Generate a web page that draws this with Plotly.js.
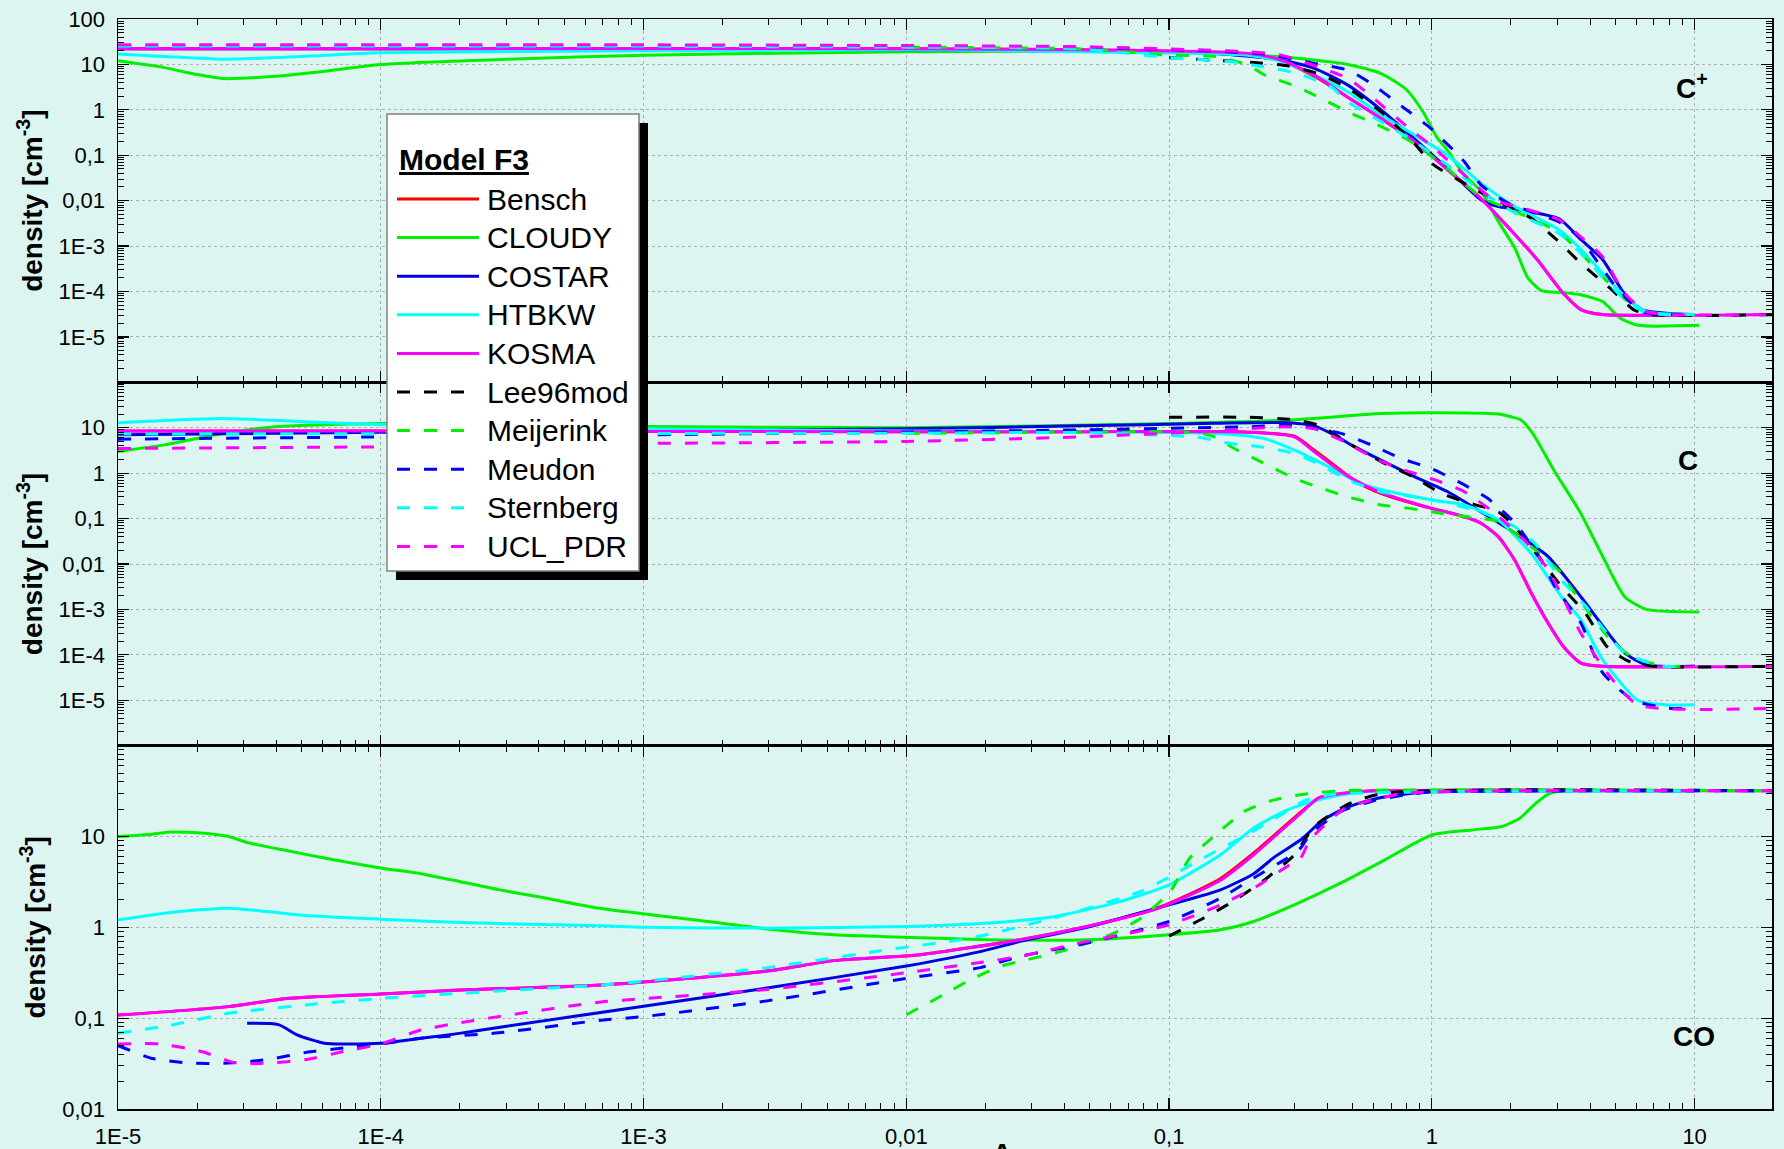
<!DOCTYPE html>
<html><head><meta charset="utf-8">
<script src="https://cdn.plot.ly/plotly-3.0.1.min.js"></script>
<style>html,body{margin:0;padding:0;background:#DDF5F0;}#chart{width:1784px;height:1149px;}</style>
</head><body><div id="chart"></div>
<script>
// ---------------- DATA ----------------
const models = ['Bensch','CLOUDY','COSTAR','HTBKW','KOSMA','Lee96mod','Meijerink','Meudon','Sternberg','UCL_PDR'];
const xTickVals = [1e-5,1e-4,1e-3,0.01,0.1,1,10];
const xTickText = ['1E-5','1E-4','1E-3','0,01','0,1','1','10'];
const yTickVals1 = [1e-5,1e-4,1e-3,0.01,0.1,1,10,100];
const yTickText1 = ['1E-5','1E-4','1E-3','0,01','0,1','1','10','100'];
const yTickVals2 = [1e-5,1e-4,1e-3,0.01,0.1,1,10];
const yTickText2 = ['1E-5','1E-4','1E-3','0,01','0,1','1','10'];
const yTickVals3 = [0.01,0.1,1,10];
const yTickText3 = ['0,01','0,1','1','10'];
const panelLabels = ['<b>C<sup>+</sup></b>','<b>C</b>','<b>CO</b>'];

// C+ panel
const bensch_cp_x = [1e-5,1e-4,1e-3,0.01,0.046,0.2,0.267,0.357,0.479,0.641,0.859,1.15,1.54,2.07,2.52,3.17,3.69,4.47,10];
const bensch_cp_y = [22,22,22,22,21,17,12,5.5,1.9,0.64,0.2,0.048,0.011,1.8e-3,5e-4,9e-5,4e-5,3.1e-5,3.1e-5];
const cloudy_cp_x = [1e-5,1.5e-5,2e-5,2.5e-5,4e-5,6e-5,1e-4,3e-4,1e-3,0.01,0.1,0.267,0.479,0.641,0.8,0.93,1.04,1.17,1.31,1.54,1.79,2.07,2.32,2.61,3.11,3.69,4.47,5.2,6.08,10.4];
const cloudy_cp_y = [12,8.5,6,4.9,5.5,7,10,13,16,19,19,14.7,10,6.3,2.8,0.86,0.26,0.11,0.04,0.016,3.5e-3,9e-4,2e-4,1.05e-4,9.5e-5,8.5e-5,6e-5,2.6e-5,1.8e-5,1.8e-5];
const costar_cp_x = [1e-5,1e-4,1e-3,0.01,0.046,0.149,0.267,0.357,0.479,0.641,0.859,1.15,1.54,1.79,2.07,3.05,3.69,4.47,5.4,6.3,10];
const costar_cp_y = [22,22,22,21,19.6,17.5,12.5,8.2,3.5,1.0,0.23,0.05,0.0104,7.4e-3,6.5e-3,4e-3,1.4e-3,5e-4,9e-5,4e-5,3.1e-5];
const htbkw_cp_x = [1e-5,1.5e-5,2.5e-5,5e-5,1e-4,1e-3,0.01,0.046,0.199,0.267,0.357,0.479,0.641,0.859,1.15,1.54,2.07,3.05,3.69,4.47,5.4,6.56,10];
const htbkw_cp_y = [17,15,13,15,18,20,21,19,16,11.5,5.8,2.5,0.77,0.28,0.1,0.024,7.4e-3,2.3e-3,8.5e-4,2.5e-4,8e-5,3.6e-5,3.1e-5];
const kosma_cp_x = [1e-5,1e-4,1e-3,0.01,0.046,0.2,0.267,0.357,0.479,0.641,0.859,1.15,1.54,2.07,2.52,3.17,3.69,4.47,20];
const kosma_cp_y = [22.5,22.5,22.5,22,21,17.5,12.5,5.8,1.9,0.65,0.2,0.047,0.011,1.8e-3,5e-4,9e-5,4e-5,3.1e-5,3.1e-5];
const lee_cp_x = [0.1,0.128,0.211,0.282,0.378,0.479,0.641,0.859,1.0,1.33,1.79,2.39,2.94,3.69,4.83,5.85,6.8,20];
const lee_cp_y = [14,13,11,9.3,6,3,0.9,0.18,0.066,0.024,9.5e-3,4.1e-3,1.5e-3,4.2e-4,1.1e-4,4e-5,3.1e-5,3.1e-5];
const meij_cp_x = [0.01,0.046,0.1,0.15,0.199,0.229,0.308,0.378,0.479,0.641,0.859,1.15,1.54,2.07,3.05,3.69,4.47,5.4,6.56,10];
const meij_cp_y = [24,22,16,15,9.7,6,3.2,1.8,0.9,0.43,0.18,0.05,0.012,5.8e-3,2e-3,7e-4,2.1e-4,7e-5,3.4e-5,3.1e-5];
const meudon_cp_x = [1e-5,1e-3,0.046,0.23,0.357,0.479,0.587,0.741,0.99,1.33,1.54,1.95,3.11,3.69,5.0,6.3,10];
const meudon_cp_y = [25,25,24,17,10.5,7.5,3.8,1.4,0.39,0.072,0.022,8.9e-3,3.2e-3,1.4e-3,1.3e-4,3.6e-5,3.1e-5];
const stern_cp_x = [1e-5,1e-3,0.01,0.046,0.1,0.172,0.308,0.413,0.479,0.641,0.859,1.15,1.54,2.07,3.05,3.69,4.47,5.42,6.56,10];
const stern_cp_y = [25,25,24,22,14,11.5,6.3,3.2,1.5,0.55,0.2,0.06,0.016,5.4e-3,1.9e-3,7e-4,2.1e-4,6.6e-5,3.4e-5,3.1e-5];
const ucl_cp_x = [1e-5,1e-3,0.01,0.046,0.2,0.267,0.479,0.587,0.8,1.0,1.31,1.72,2.33,3.05,3.69,4.47,5.42,6.56,7.94,20];
const ucl_cp_y = [27,27,26,24.5,19,16,4.9,2.0,0.44,0.158,0.04,0.0105,6.3e-3,3.8e-3,1.6e-3,5.8e-4,9e-5,3.6e-5,3.1e-5,3.1e-5];

// C panel
const bensch_c_x = [1e-5,1e-4,1e-3,0.01,0.046,0.199,0.3,0.357,0.425,0.508,0.604,0.741,0.99,1.33,1.54,1.79,2.07,2.39,2.77,3.17,3.69,4.47,10];
const bensch_c_y = [8.5,8.5,8.3,8.2,8.2,8,6.5,3.2,1.5,0.68,0.41,0.27,0.17,0.11,0.079,0.04,0.012,2.3e-3,5e-4,1.5e-4,6.6e-5,5.6e-5,5.6e-5];
const cloudy_c_x = [1e-5,1.5e-5,2.5e-5,4e-5,1e-4,1e-3,0.01,0.1,0.3,0.641,0.99,1.79,2.0,2.19,2.42,2.93,3.69,4.47,5.42,6.56,10.4];
const cloudy_c_y = [3,4.2,7.5,10.5,12.4,10.7,10,12.4,15,20.5,21.5,20,17.4,14.7,7.5,1.1,0.13,0.0146,1.9e-3,1e-3,8.8e-4];
const costar_c_x = [1e-5,1e-4,1e-3,0.01,0.046,0.149,0.267,0.357,0.425,0.508,0.604,0.741,0.859,1.15,1.54,2.07,2.77,3.69,5.42,6.56,10];
const costar_c_y = [7,8,8.5,9.5,11,12.5,13,11,6.9,3.8,2.3,1.28,0.84,0.39,0.14,0.048,0.0146,1.9e-3,1.1e-4,6e-5,5.6e-5];
const htbkw_c_x = [1e-5,2.5e-5,6e-5,1e-4,1e-3,0.01,0.046,0.149,0.23,0.308,0.413,0.553,0.741,0.99,1.33,1.79,2.39,3.11,3.69,4.47,6.08,7.65,10];
const htbkw_c_y = [12.9,16,13,11.8,9.5,8.5,8.2,7.5,5.8,3,1.3,0.55,0.36,0.26,0.2,0.093,0.017,1.9e-3,5.9e-4,7.8e-5,1e-5,8e-6,8e-6];
const kosma_c_x = [1e-5,1e-4,1e-3,0.01,0.046,0.199,0.3,0.357,0.425,0.508,0.604,0.741,0.99,1.33,1.54,1.79,2.07,2.39,2.77,3.17,3.69,4.47,20];
const kosma_c_y = [8.5,8.5,8.3,8.2,8.2,8,6.3,2.95,1.39,0.71,0.43,0.28,0.17,0.11,0.079,0.04,0.012,2.3e-3,5e-4,1.5e-4,6.6e-5,5.6e-5,5.6e-5];
const lee_c_x = [0.1,0.199,0.3,0.378,0.479,0.641,0.859,1.085,1.33,1.79,2.07,2.61,3.11,3.84,4.65,5.6,7,20];
const lee_c_y = [17,17,15,11,4.7,1.8,0.8,0.36,0.235,0.14,0.066,0.012,3.2e-3,8.3e-4,1.5e-4,7.3e-5,5.6e-5,5.6e-5];
const meij_c_x = [0.01,0.046,0.128,0.149,0.177,0.223,0.3,0.378,0.479,0.641,0.81,1.085,1.37,1.79,2.39,3.11,3.29,4.65,5.85,7.94,9];
const meij_c_y = [7.5,8,7.8,6.3,3.5,1.8,0.77,0.47,0.3,0.2,0.17,0.13,0.11,0.085,0.024,6.3e-3,3.8e-3,2.6e-4,8.5e-5,5.6e-5,5.6e-5];
const meudon_c_x = [1e-5,1e-4,1e-3,0.01,0.046,0.199,0.3,0.451,0.587,0.764,0.99,1.26,1.63,2.07,2.61,2.94,3.69,4.47,5.85,7.94,10];
const meudon_c_y = [5.6,6.3,7,8,9,10.5,11.4,7.5,4.2,2.1,1.28,0.65,0.28,0.08,0.012,3.2e-3,5e-4,4e-5,1e-5,6.7e-6,6.7e-6];
const stern_c_x = [1e-5,1e-3,0.01,0.046,0.128,0.172,0.23,0.3,0.378,0.479,0.641,0.859,1.15,1.54,2.07,2.46,3.11,3.84,5.42,7.65,8.9];
const stern_c_y = [7.3,7.5,7.6,7.8,6.2,4.5,3.7,2.7,1.5,0.71,0.39,0.3,0.22,0.14,0.066,0.029,4.5e-3,1.2e-3,1.1e-4,5.6e-5,5.6e-5];
const ucl_c_x = [1e-5,1e-4,1e-3,0.01,0.046,0.15,0.274,0.357,0.465,0.623,0.787,1.03,1.33,1.74,2.24,2.77,3.69,4.65,6.08,20];
const ucl_c_y = [3.5,3.8,4.5,5,6.3,8.5,10.5,9.5,4.9,1.95,1.17,0.71,0.39,0.13,0.034,7.5e-3,3e-4,4e-5,8e-6,6.7e-6];

// CO panel
const bensch_co_x = [1e-5,2.64e-5,4.37e-5,1e-4,2e-4,6.9e-4,2.95e-3,0.0053,0.0113,0.0271,0.0487,0.0875,0.117,0.157,0.21,0.317,0.37,0.466,0.6,10];
const bensch_co_y = [0.108,0.134,0.165,0.185,0.204,0.232,0.33,0.43,0.5,0.73,1.02,1.58,2.25,3.45,6.6,18.5,26.5,30,31.8,31.8];
const cloudy_co_x = [1e-5,1.35e-5,1.59e-5,2e-5,2.64e-5,3.1e-5,4.37e-5,6.1e-5,1e-4,1.42e-4,1.99e-4,2.8e-4,3.9e-4,6.8e-4,1.64e-3,2.95e-3,5.3e-3,0.0084,0.0202,0.0487,0.1,0.157,0.21,0.31,0.449,0.66,1.0,1.42,1.85,2.16,2.52,2.83,3.2,10];
const cloudy_co_y = [10,10.6,11.2,11,10,8.6,7,5.8,4.5,3.9,3.2,2.6,2.2,1.62,1.19,0.96,0.83,0.79,0.73,0.73,0.83,0.94,1.16,1.85,3.06,5.5,10.4,11.8,12.9,15.9,24,30,31.8,31.8];
const costar_co_x = [3.1e-5,4.08e-5,4.83e-5,6.1e-5,7.24e-5,1e-4,1.42e-4,1.99e-4,2.8e-4,1e-3,2.95e-3,0.01,0.0191,0.0271,0.0487,0.1,0.157,0.21,0.253,0.317,0.385,0.466,0.587,0.739,1,10];
const costar_co_y = [0.0877,0.085,0.065,0.053,0.052,0.053,0.06,0.068,0.079,0.135,0.215,0.375,0.54,0.70,1.0,1.77,2.59,3.9,6.0,9.2,15.2,20.4,25.3,28.6,31,31.8];
const htbkw_co_x = [1e-5,1.59e-5,2e-5,2.64e-5,3.7e-5,5.2e-5,1e-4,2e-4,6.9e-4,1e-3,3e-3,0.01,0.0191,0.0363,0.065,0.1,0.157,0.21,0.282,0.37,0.449,0.55,10];
const htbkw_co_y = [1.21,1.46,1.55,1.62,1.49,1.35,1.23,1.13,1.04,1.0,0.98,1.02,1.1,1.31,1.92,2.94,6.3,12.4,19.6,25.3,28.6,31,31.8];
const kosma_co_x = [1e-5,2.64e-5,4.37e-5,1e-4,2e-4,6.9e-4,2.95e-3,0.0053,0.0113,0.0271,0.0487,0.0875,0.117,0.157,0.21,0.317,0.37,0.466,0.6,20];
const kosma_co_y = [0.108,0.134,0.165,0.185,0.204,0.232,0.33,0.43,0.5,0.73,1.02,1.56,2.19,3.3,6.3,18,26.5,30,31.8,31.8];
const lee_co_x = [0.1,0.135,0.171,0.23,0.3,0.357,0.485,0.66,20];
const lee_co_y = [0.8,1.26,1.85,3.3,6.3,12.9,23,30,31.8];
const meij_co_x = [0.01,0.0138,0.0175,0.0227,0.0288,0.0386,0.0487,0.0615,0.078,0.101,0.12,0.148,0.193,0.251,0.317,0.45,20];
const meij_co_y = [0.109,0.18,0.264,0.37,0.44,0.54,0.67,0.86,1.26,2.48,5.8,10,18.8,25.3,28.8,31.8,31.8];
const meudon_co_x = [1e-5,1.35e-5,1.88e-5,2.64e-5,3.7e-5,5.2e-5,7.24e-5,1e-4,1.42e-4,2.8e-4,6.9e-4,1e-3,2.95e-3,0.01,0.0191,0.0271,0.0487,0.1,0.157,0.21,0.282,0.317,0.344,0.449,0.587,0.8,1,20];
const meudon_co_y = [0.05,0.036,0.032,0.032,0.035,0.042,0.047,0.052,0.06,0.069,0.095,0.104,0.155,0.274,0.36,0.478,0.67,1.16,2.1,3.5,5.8,7.5,10.5,18.8,24.3,28.8,31,31.8];
const stern_co_x = [1e-5,1.59e-5,2.64e-5,5.2e-5,1e-4,2e-4,6.9e-4,1e-3,2.95e-3,0.0084,0.0175,0.036,0.078,0.104,0.135,0.177,0.23,0.282,0.33,0.416,10];
const stern_co_y = [0.068,0.084,0.113,0.14,0.165,0.188,0.232,0.255,0.36,0.565,0.76,1.26,2.48,3.8,5.8,8.8,13.4,19,25,29,31.8];
const ucl_co_x = [1e-5,1.44e-5,2.08e-5,2.82e-5,3.7e-5,5.2e-5,7.24e-5,1e-4,1.42e-4,2e-4,2.8e-4,6.9e-4,1e-3,2.95e-3,0.01,0.0191,0.0271,0.0487,0.1,0.157,0.21,0.282,0.317,0.344,0.466,0.587,0.8,20];
const ucl_co_y = [0.052,0.052,0.043,0.032,0.032,0.035,0.043,0.052,0.074,0.089,0.104,0.151,0.164,0.207,0.316,0.41,0.478,0.70,1.07,1.77,2.7,4.7,5.8,9.2,20.4,25,30,31.8];

// ---------------- STYLE ----------------
const colors = ['#FF0000','#00F000','#0000E0','#00FFFF','#FF00FF','#000000','#00F000','#0000FF','#00FFFF','#FF00FF'];
const DASH = '13px,14px';
const dashes = ['solid','solid','solid','solid','solid',DASH,DASH,DASH,DASH,DASH];
const FONT = '"Liberation Sans", Arial, sans-serif';

const W = 1784, H = 1149, ML = 118, MR = 12, MT = 19, MB = 40;
const PW = W - ML - MR, PH = H - MT - MB;
const px = x => (x - ML) / PW;
const py = y => 1 - (y - MT) / PH;

const panelData = [
  [[bensch_cp_x,bensch_cp_y],[cloudy_cp_x,cloudy_cp_y],[costar_cp_x,costar_cp_y],[htbkw_cp_x,htbkw_cp_y],[kosma_cp_x,kosma_cp_y],
   [lee_cp_x,lee_cp_y],[meij_cp_x,meij_cp_y],[meudon_cp_x,meudon_cp_y],[stern_cp_x,stern_cp_y],[ucl_cp_x,ucl_cp_y]],
  [[bensch_c_x,bensch_c_y],[cloudy_c_x,cloudy_c_y],[costar_c_x,costar_c_y],[htbkw_c_x,htbkw_c_y],[kosma_c_x,kosma_c_y],
   [lee_c_x,lee_c_y],[meij_c_x,meij_c_y],[meudon_c_x,meudon_c_y],[stern_c_x,stern_c_y],[ucl_c_x,ucl_c_y]],
  [[bensch_co_x,bensch_co_y],[cloudy_co_x,cloudy_co_y],[costar_co_x,costar_co_y],[htbkw_co_x,htbkw_co_y],[kosma_co_x,kosma_co_y],
   [lee_co_x,lee_co_y],[meij_co_x,meij_co_y],[meudon_co_x,meudon_co_y],[stern_co_x,stern_co_y],[ucl_co_x,ucl_co_y]]
];

const traces = [];
panelData.forEach((panel, p) => {
  const xa = p === 0 ? 'x' : 'x' + (p + 1);
  const ya = p === 0 ? 'y' : 'y' + (p + 1);
  panel.forEach((d, i) => {
    traces.push({
      x: d[0], y: d[1], xaxis: xa, yaxis: ya, type: 'scatter', mode: 'lines',
      name: models[i], legendgroup: models[i], showlegend: false,
      line: {color: colors[i], width: 3, dash: dashes[i], shape: 'spline', smoothing: 0.6},
      hoverinfo: 'skip'
    });
  });
});

function minorVals(lo, hi, max) {
  const v = [];
  for (let e = lo; e <= hi; e++) for (let m = 2; m <= 9; m++) { const val = m * Math.pow(10, e); if (val <= max) v.push(val); }
  return v;
}
const xMinor = minorVals(-5, 1, 19.7);
const yMinor12 = minorVals(-6, 1, 100);
const yMinor3 = minorVals(-2, 1, 100);

const baseAxis = {
  type: 'log', ticks: 'inside', ticklen: 11, tickwidth: 1.2, tickcolor: '#000',
  mirror: 'allticks', showline: true, linecolor: '#000', linewidth: 1.5,
  showgrid: true, gridcolor: '#b0b0b0', griddash: 'dot', gridwidth: 1, zeroline: false,
  tickfont: {size: 22, color: '#000', family: FONT}, tickmode: 'array', ticklabelstandoff: 7,
  automargin: false
};
function xAxis(anchor, labels) {
  return Object.assign({}, baseAxis, {
    anchor: anchor, range: [-5, Math.log10(19.7)], tickvals: xTickVals, ticktext: xTickText,
    showticklabels: labels, domain: [0, 1],
    minor: {tickmode: 'array', tickvals: xMinor, ticks: 'inside', ticklen: 6, tickcolor: '#000', tickwidth: 1, showgrid: false}
  });
}
function yAxis(anchor, dom, range, vals, text, minor) {
  return Object.assign({}, baseAxis, {
    anchor: anchor, domain: dom, range: range, tickvals: vals, ticktext: text,
    title: {text: '<b>density [cm<sup>-3</sup>]</b>', font: {size: 28, color: '#000', family: FONT}, standoff: 8},
    minor: {tickmode: 'array', tickvals: minor, ticks: 'inside', ticklen: 6, tickcolor: '#000', tickwidth: 1, showgrid: false}
  });
}

const shapes = [];
const annotations = [];
// legend box (drawn)
const LX0 = 387, LY0 = 114, LX1 = 639, LY1 = 571, SH = 9;
shapes.push({type: 'rect', xref: 'paper', yref: 'paper', x0: px(LX0 + SH), x1: px(LX1 + SH), y0: py(LY0 + SH), y1: py(LY1 + SH),
  fillcolor: '#000', line: {width: 0}, layer: 'above'});
shapes.push({type: 'rect', xref: 'paper', yref: 'paper', x0: px(LX0), x1: px(LX1), y0: py(LY0), y1: py(LY1),
  fillcolor: '#FFFFFF', line: {color: '#808080', width: 1.5}, layer: 'above'});
annotations.push({xref: 'paper', yref: 'paper', x: px(397), y: py(160), xanchor: 'left', yanchor: 'middle',
  text: '<b><u>Model F3</u></b>', showarrow: false, font: {size: 30, color: '#000', family: FONT}});
models.forEach((m, i) => {
  const yy = 199 + 38.6 * i;
  const solid = dashes[i] === 'solid';
  shapes.push({type: 'line', xref: 'paper', yref: 'paper', x0: px(397), x1: px(solid ? 479 : 471), y0: py(yy), y1: py(yy),
    line: {color: colors[i], width: 3, dash: dashes[i]}, layer: 'above'});
  annotations.push({xref: 'paper', yref: 'paper', x: px(485), y: py(yy), xanchor: 'left', yanchor: 'middle',
    text: m, showarrow: false, font: {size: 30, color: '#000', family: FONT}});
});
// panel labels
const labelPos = [[1692, 86], [1688, 460], [1694, 1036]];
panelLabels.forEach((t, i) => {
  annotations.push({xref: 'paper', yref: 'paper', x: px(labelPos[i][0]), y: py(labelPos[i][1]), xanchor: 'center', yanchor: 'middle',
    text: t, showarrow: false, font: {size: 28, color: '#000', family: FONT}});
});
// x-axis title, partly below the picture edge as in the original
annotations.push({xref: 'paper', yref: 'paper', x: px(990), y: py(1136), xanchor: 'left', yanchor: 'top',
  text: '<b>A<sub>V</sub></b>', showarrow: false, font: {size: 28, color: '#000', family: FONT}});

const layout = {
  width: W, height: H, margin: {l: ML, r: MR, t: MT, b: MB, autoexpand: false},
  paper_bgcolor: '#DDF5F0', plot_bgcolor: '#DDF5F0',
  font: {family: FONT, color: '#000'},
  showlegend: false,
  xaxis: xAxis('y', false),
  xaxis2: xAxis('y2', false),
  xaxis3: xAxis('y3', true),
  yaxis: yAxis('x', [2/3, 1], [-6, 2], yTickVals1, yTickText1, yMinor12),
  yaxis2: yAxis('x2', [1/3, 2/3], [-6, 2], yTickVals2, yTickText2, yMinor12),
  yaxis3: yAxis('x3', [0, 1/3], [-2, 2], yTickVals3, yTickText3, yMinor3),
  shapes: shapes, annotations: annotations
};

Plotly.newPlot('chart', traces, layout, {staticPlot: true, displayModeBar: false});
</script></body></html>
